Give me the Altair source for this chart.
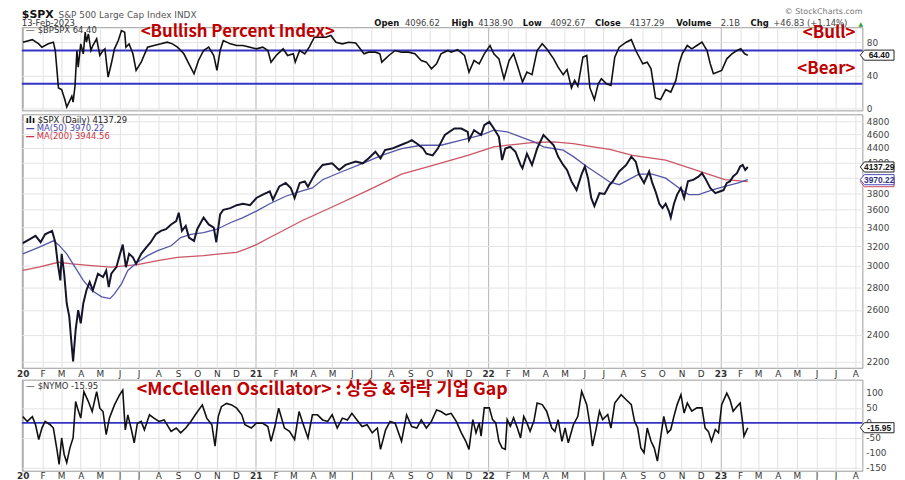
import altair as alt
import pandas as pd

# ---------------- values ----------------
bpi = [
    ("2020-01-01", 80), ("2020-01-16", 83), ("2020-01-26", 78), ("2020-01-31", 74), ("2020-02-10", 78),
    ("2020-02-18", 80), ("2020-02-21", 70), ("2020-02-26", 25), ("2020-03-02", 23), ("2020-03-07", 11),
    ("2020-03-10", 2), ("2020-03-15", 10), ("2020-03-18", 15), ("2020-03-20", 8), ("2020-03-23", 27),
    ("2020-03-26", 70), ("2020-03-28", 50), ("2020-04-01", 78), ("2020-04-05", 66), ("2020-04-08", 92),
    ("2020-04-10", 80), ("2020-04-13", 90), ("2020-04-17", 70), ("2020-04-20", 76), ("2020-04-26", 84),
    ("2020-05-01", 64), ("2020-05-06", 70), ("2020-05-09", 72), ("2020-05-14", 38), ("2020-05-19", 54),
    ("2020-05-24", 72), ("2020-05-30", 82), ("2020-06-04", 94), ("2020-06-09", 92), ("2020-06-11", 74),
    ("2020-06-16", 78), ("2020-06-22", 66), ("2020-06-27", 46), ("2020-07-05", 56), ("2020-07-15", 74),
    ("2020-07-25", 76), ("2020-08-05", 78), ("2020-08-15", 80), ("2020-08-23", 78), ("2020-08-31", 74),
    ("2020-09-10", 66), ("2020-09-18", 54), ("2020-09-26", 42), ("2020-10-03", 58), ("2020-10-11", 70),
    ("2020-10-19", 74), ("2020-10-27", 64), ("2020-11-01", 46), ("2020-11-06", 70), ("2020-11-11", 82),
    ("2020-11-22", 78), ("2020-12-02", 76), ("2020-12-12", 76), ("2020-12-23", 74), ("2021-01-02", 72),
    ("2021-01-12", 74), ("2021-01-20", 70), ("2021-01-25", 56), ("2021-02-02", 64), ("2021-02-13", 72),
    ("2021-02-20", 64), ("2021-03-01", 66), ("2021-03-04", 56), ("2021-03-11", 70), ("2021-03-19", 66),
    ("2021-03-26", 74), ("2021-04-03", 86), ("2021-04-11", 86), ("2021-04-21", 86), ("2021-04-29", 88),
    ("2021-05-07", 80), ("2021-05-17", 78), ("2021-05-27", 80), ("2021-06-07", 79), ("2021-06-14", 72),
    ("2021-06-20", 66), ("2021-06-27", 68), ("2021-07-08", 68), ("2021-07-15", 66), ("2021-07-18", 56),
    ("2021-07-29", 64), ("2021-08-08", 70), ("2021-08-18", 68), ("2021-08-29", 68), ("2021-09-08", 66),
    ("2021-09-18", 58), ("2021-09-26", 56), ("2021-10-04", 48), ("2021-10-12", 54), ("2021-10-19", 66),
    ("2021-10-30", 70), ("2021-11-04", 68), ("2021-11-14", 71), ("2021-11-25", 64), ("2021-12-02", 44),
    ("2021-12-10", 58), ("2021-12-18", 54), ("2021-12-26", 66), ("2022-01-04", 76), ("2022-01-10", 66),
    ("2022-01-18", 60), ("2022-01-26", 36), ("2022-02-03", 58), ("2022-02-10", 66), ("2022-02-16", 52),
    ("2022-02-24", 32), ("2022-03-03", 44), ("2022-03-11", 41), ("2022-03-19", 70), ("2022-03-27", 78),
    ("2022-04-03", 72), ("2022-04-14", 60), ("2022-04-21", 50), ("2022-04-29", 41), ("2022-05-05", 47),
    ("2022-05-12", 25), ("2022-05-17", 34), ("2022-05-22", 27), ("2022-05-30", 62), ("2022-06-05", 64),
    ("2022-06-10", 25), ("2022-06-17", 11), ("2022-06-23", 30), ("2022-06-28", 36), ("2022-07-06", 30),
    ("2022-07-13", 28), ("2022-07-19", 62), ("2022-07-26", 74), ("2022-08-06", 80), ("2022-08-14", 83),
    ("2022-08-21", 70), ("2022-09-01", 54), ("2022-09-08", 56), ("2022-09-14", 48), ("2022-09-21", 13),
    ("2022-09-29", 11), ("2022-10-07", 23), ("2022-10-15", 20), ("2022-10-23", 34), ("2022-10-28", 54),
    ("2022-11-02", 66), ("2022-11-10", 76), ("2022-11-17", 72), ("2022-11-25", 76), ("2022-12-03", 80),
    ("2022-12-11", 70), ("2022-12-16", 54), ("2022-12-21", 42), ("2023-01-03", 46), ("2023-01-11", 60),
    ("2023-01-19", 66), ("2023-01-27", 70), ("2023-02-02", 72), ("2023-02-08", 66), ("2023-02-13", 64.40),
]

spx = [
    ("2020-01-01", 3230), ("2020-01-10", 3265), ("2020-01-21", 3308), ("2020-01-29", 3240), ("2020-02-05", 3325),
    ("2020-02-16", 3362), ("2020-02-21", 3240), ("2020-02-25", 3020), ("2020-02-29", 2862), ("2020-03-02", 3120),
    ("2020-03-06", 2925), ("2020-03-10", 2655), ("2020-03-14", 2545), ("2020-03-17", 2360), ("2020-03-20", 2200),
    ("2020-03-24", 2437), ("2020-03-28", 2599), ("2020-04-01", 2490), ("2020-04-05", 2655), ("2020-04-10", 2772),
    ("2020-04-15", 2847), ("2020-04-20", 2772), ("2020-04-28", 2925), ("2020-05-06", 2893), ("2020-05-11", 2956),
    ("2020-05-15", 2800), ("2020-05-19", 2925), ("2020-05-27", 2988), ("2020-06-01", 3102), ("2020-06-06", 3215),
    ("2020-06-11", 2988), ("2020-06-16", 3120), ("2020-06-22", 3085), ("2020-06-27", 3020), ("2020-07-05", 3120),
    ("2020-07-13", 3186), ("2020-07-20", 3240), ("2020-07-28", 3325), ("2020-08-05", 3362), ("2020-08-13", 3380),
    ("2020-08-21", 3433), ("2020-08-29", 3471), ("2020-09-02", 3566), ("2020-09-07", 3362), ("2020-09-13", 3416),
    ("2020-09-18", 3290), ("2020-09-26", 3255), ("2020-10-01", 3380), ("2020-10-11", 3510), ("2020-10-19", 3433),
    ("2020-10-27", 3398), ("2020-10-31", 3240), ("2020-11-06", 3547), ("2020-11-11", 3600), ("2020-11-22", 3620),
    ("2020-12-02", 3654), ("2020-12-12", 3672), ("2020-12-23", 3654), ("2021-01-02", 3741), ("2021-01-12", 3782),
    ("2021-01-23", 3823), ("2021-01-28", 3720), ("2021-02-07", 3885), ("2021-02-17", 3928), ("2021-02-25", 3865),
    ("2021-03-03", 3740), ("2021-03-11", 3928), ("2021-03-19", 3948), ("2021-03-24", 3880), ("2021-04-01", 4000),
    ("2021-04-05", 4055), ("2021-04-16", 4165), ("2021-05-01", 4187), ("2021-05-12", 4098), ("2021-05-22", 4165),
    ("2021-06-07", 4210), ("2021-06-18", 4187), ("2021-06-27", 4253), ("2021-07-08", 4348), ("2021-07-16", 4253),
    ("2021-07-23", 4370), ("2021-08-03", 4392), ("2021-08-16", 4440), ("2021-08-29", 4490), ("2021-09-03", 4515),
    ("2021-09-11", 4465), ("2021-09-21", 4392), ("2021-09-26", 4320), ("2021-10-06", 4296), ("2021-10-14", 4392),
    ("2021-10-25", 4590), ("2021-11-09", 4688), ("2021-11-20", 4688), ("2021-11-30", 4637), ("2021-12-02", 4515),
    ("2021-12-10", 4663), ("2021-12-21", 4590), ("2021-12-26", 4738), ("2022-01-03", 4790), ("2022-01-10", 4688),
    ("2022-01-18", 4563), ("2022-01-23", 4232), ("2022-01-28", 4392), ("2022-02-05", 4418), ("2022-02-13", 4348),
    ("2022-02-21", 4165), ("2022-02-24", 4121), ("2022-03-03", 4320), ("2022-03-11", 4165), ("2022-03-19", 4392),
    ("2022-03-29", 4590), ("2022-04-06", 4515), ("2022-04-14", 4440), ("2022-04-21", 4279), ("2022-04-29", 4165),
    ("2022-05-05", 4098), ("2022-05-12", 3948), ("2022-05-20", 3838), ("2022-05-28", 4043), ("2022-06-02", 4143),
    ("2022-06-07", 3990), ("2022-06-12", 3741), ("2022-06-17", 3643), ("2022-06-25", 3800), ("2022-07-03", 3790),
    ("2022-07-11", 3906), ("2022-07-16", 3948), ("2022-07-26", 4077), ("2022-08-06", 4165), ("2022-08-14", 4279),
    ("2022-08-21", 4210), ("2022-08-26", 4043), ("2022-09-03", 3928), ("2022-09-11", 4077), ("2022-09-16", 3928),
    ("2022-09-21", 3823), ("2022-09-27", 3672), ("2022-10-02", 3620), ("2022-10-07", 3672), ("2022-10-12", 3585),
    ("2022-10-15", 3510), ("2022-10-20", 3672), ("2022-10-25", 3782), ("2022-10-31", 3865), ("2022-11-05", 3741),
    ("2022-11-11", 3948), ("2022-11-20", 3970), ("2022-11-28", 4012), ("2022-12-03", 4055), ("2022-12-08", 3990),
    ("2022-12-16", 3865), ("2022-12-24", 3800), ("2023-01-01", 3823), ("2023-01-06", 3838), ("2023-01-11", 3928),
    ("2023-01-16", 3948), ("2023-01-21", 4012), ("2023-01-27", 4055), ("2023-02-01", 4143), ("2023-02-05", 4165),
    ("2023-02-09", 4098), ("2023-02-13", 4137.29),
]

ma50 = [
    ("2020-01-01", 3120), ("2020-01-26", 3186), ("2020-02-18", 3255), ("2020-02-26", 3215), ("2020-03-10", 3120),
    ("2020-03-23", 2988), ("2020-04-05", 2862), ("2020-04-18", 2772), ("2020-05-04", 2713), ("2020-05-17", 2698),
    ("2020-05-24", 2740), ("2020-06-04", 2830), ("2020-06-14", 2956), ("2020-06-29", 3036), ("2020-07-15", 3102),
    ("2020-07-31", 3152), ("2020-08-21", 3203), ("2020-09-05", 3290), ("2020-09-21", 3325), ("2020-10-11", 3343),
    ("2020-11-01", 3380), ("2020-11-22", 3452), ("2020-12-12", 3510), ("2021-01-02", 3585), ("2021-01-23", 3672),
    ("2021-02-17", 3762), ("2021-03-16", 3830), ("2021-03-31", 3865), ("2021-04-16", 3970), ("2021-05-17", 4077),
    ("2021-06-18", 4187), ("2021-07-18", 4296), ("2021-08-18", 4392), ("2021-09-18", 4440), ("2021-10-19", 4440),
    ("2021-11-20", 4515), ("2021-12-21", 4590), ("2022-01-10", 4663), ("2022-01-31", 4637), ("2022-02-21", 4563),
    ("2022-03-14", 4490), ("2022-03-29", 4418), ("2022-04-14", 4392), ("2022-04-29", 4370), ("2022-05-15", 4279),
    ("2022-06-05", 4143), ("2022-06-25", 4030), ("2022-07-11", 3940), ("2022-07-26", 3906), ("2022-08-26", 4043),
    ("2022-09-16", 4043), ("2022-10-07", 3990), ("2022-10-28", 3865), ("2022-11-12", 3782), ("2022-11-28", 3782),
    ("2022-12-18", 3838), ("2023-01-08", 3885), ("2023-01-29", 3928), ("2023-02-13", 3970.22),
]

ma200 = [
    ("2020-01-01", 2956), ("2020-01-26", 2988), ("2020-02-26", 3036), ("2020-03-18", 3020), ("2020-04-18", 3004),
    ("2020-05-19", 2988), ("2020-06-29", 3012), ("2020-07-31", 3053), ("2020-08-31", 3085), ("2020-10-11", 3102),
    ("2020-11-06", 3120), ("2020-12-02", 3136), ("2020-12-17", 3170), ("2021-01-02", 3215), ("2021-01-23", 3290),
    ("2021-02-17", 3380), ("2021-03-16", 3480), ("2021-03-31", 3528), ("2021-05-07", 3654), ("2021-06-27", 3838),
    ("2021-08-18", 4043), ("2021-10-09", 4165), ("2021-11-30", 4296), ("2022-01-10", 4418), ("2022-02-10", 4450),
    ("2022-03-14", 4480), ("2022-04-14", 4490), ("2022-05-15", 4465), ("2022-06-15", 4418), ("2022-07-11", 4380),
    ("2022-08-16", 4296), ("2022-10-07", 4232), ("2022-11-07", 4143), ("2022-12-08", 4055), ("2023-01-08", 3970),
    ("2023-02-13", 3944.56),
]

nymo = [
    ("2020-01-01", 21), ("2020-01-08", 5), ("2020-01-16", 21), ("2020-01-21", -6), ("2020-01-26", -55),
    ("2020-01-31", -17), ("2020-02-05", 5), ("2020-02-13", -6), ("2020-02-18", -17), ("2020-02-24", -94),
    ("2020-02-27", -138), ("2020-03-02", -50), ("2020-03-06", -105), ("2020-03-10", -132), ("2020-03-15", -83),
    ("2020-03-20", -50), ("2020-03-24", 71), ("2020-03-27", 49), ("2020-04-01", 16), ("2020-04-06", 104),
    ("2020-04-13", 71), ("2020-04-19", 38), ("2020-04-26", 104), ("2020-05-01", 49), ("2020-05-06", 38),
    ("2020-05-11", -39), ("2020-05-16", 16), ("2020-05-24", 60), ("2020-06-01", 93), ("2020-06-06", 109),
    ("2020-06-10", -23), ("2020-06-14", 27), ("2020-06-19", -17), ("2020-06-24", -66), ("2020-06-29", -1),
    ("2020-07-05", 5), ("2020-07-10", -23), ("2020-07-18", 27), ("2020-07-25", 16), ("2020-08-02", 5),
    ("2020-08-10", 10), ("2020-08-21", -28), ("2020-08-29", -17), ("2020-09-05", -33), ("2020-09-13", -17),
    ("2020-09-21", 5), ("2020-09-28", 27), ("2020-10-09", 60), ("2020-10-16", 16), ("2020-10-24", -6),
    ("2020-10-29", -77), ("2020-11-03", 21), ("2020-11-08", 54), ("2020-11-16", 65), ("2020-11-24", 60),
    ("2020-12-02", 49), ("2020-12-10", 27), ("2020-12-15", -6), ("2020-12-25", -17), ("2021-01-02", -1),
    ("2021-01-12", -1), ("2021-01-20", -12), ("2021-01-25", -61), ("2021-01-31", -12), ("2021-02-06", 49),
    ("2021-02-15", -17), ("2021-02-23", -28), ("2021-03-03", -55), ("2021-03-10", 38), ("2021-03-16", -1),
    ("2021-03-24", -50), ("2021-03-31", 27), ("2021-04-08", 27), ("2021-04-16", 10), ("2021-04-24", 5),
    ("2021-05-01", 27), ("2021-05-09", -17), ("2021-05-17", 16), ("2021-05-25", 10), ("2021-06-01", 32),
    ("2021-06-09", 10), ("2021-06-17", -12), ("2021-06-25", -6), ("2021-07-03", -33), ("2021-07-11", -17),
    ("2021-07-16", -88), ("2021-07-24", -23), ("2021-07-31", 5), ("2021-08-08", -1), ("2021-08-18", -61),
    ("2021-08-26", 27), ("2021-09-03", -12), ("2021-09-11", -17), ("2021-09-18", 10), ("2021-09-26", -17),
    ("2021-10-04", 5), ("2021-10-12", 43), ("2021-10-19", 38), ("2021-10-27", 27), ("2021-11-04", 32),
    ("2021-11-12", 5), ("2021-11-20", -33), ("2021-11-27", -61), ("2021-12-02", -88), ("2021-12-08", 11),
    ("2021-12-13", -33), ("2021-12-18", 0), ("2021-12-21", -44), ("2021-12-26", 50), ("2022-01-03", 50),
    ("2022-01-08", 11), ("2022-01-13", 0), ("2022-01-18", -61), ("2022-01-23", -83), ("2022-01-28", -88),
    ("2022-01-31", 11), ("2022-02-05", -11), ("2022-02-10", 17), ("2022-02-16", -17), ("2022-02-21", -50),
    ("2022-02-26", 22), ("2022-03-03", 0), ("2022-03-08", -28), ("2022-03-14", 6), ("2022-03-19", 66),
    ("2022-03-27", 61), ("2022-04-03", 39), ("2022-04-11", -17), ("2022-04-16", -28), ("2022-04-21", 11),
    ("2022-04-27", -61), ("2022-05-02", -17), ("2022-05-07", -66), ("2022-05-15", -6), ("2022-05-22", 22),
    ("2022-05-28", 105), ("2022-06-05", 61), ("2022-06-10", -6), ("2022-06-14", -77), ("2022-06-20", -17),
    ("2022-06-25", 39), ("2022-06-30", 11), ("2022-07-08", 28), ("2022-07-13", -17), ("2022-07-19", 66),
    ("2022-07-29", 94), ("2022-08-06", 77), ("2022-08-14", 61), ("2022-08-19", 6), ("2022-08-24", -17),
    ("2022-08-29", -83), ("2022-09-03", -99), ("2022-09-08", -17), ("2022-09-14", -61), ("2022-09-19", -83),
    ("2022-09-24", -127), ("2022-09-29", -50), ("2022-10-04", 22), ("2022-10-10", -33), ("2022-10-15", -22),
    ("2022-10-20", 22), ("2022-10-25", 61), ("2022-10-31", 94), ("2022-11-05", 33), ("2022-11-10", 66),
    ("2022-11-17", 39), ("2022-11-25", 50), ("2022-12-03", 50), ("2022-12-08", -17), ("2022-12-13", -28),
    ("2022-12-18", -61), ("2022-12-24", -22), ("2022-12-29", -33), ("2023-01-03", 61), ("2023-01-11", 99),
    ("2023-01-16", 77), ("2023-01-21", 39), ("2023-01-27", 55), ("2023-02-01", 66), ("2023-02-05", 0),
    ("2023-02-07", -44), ("2023-02-13", -15.95),
]

bpi_levels = [30, 70]
nymo_levels = [0]
bpi_ticks = [0, 20, 40, 60, 80]
spx_ticks = [2200, 2400, 2600, 2800, 3000, 3200, 3400, 3600, 3800, 4000, 4200, 4400, 4600, 4800]
nymo_ticks = [-150, -100, -50, 0, 50, 100]
# tick labels that sit completely under a value box in the reference
bpi_hidden_label = 60
spx_hidden_label = 4000

quote_fields = ["Open", "High", "Low", "Close", "Volume", "Chg"]
quote_values = ["4096.62", "4138.90", "4092.67", "4137.29", "2.1B", "+46.83 (+1.14%)"]
last_bpi, last_spx, last_ma50, last_ma200, last_nymo = 64.40, 4137.29, 3970.22, 3944.56, -15.95

# ---------------- layout / style ----------------
W = 849
H_TOP, H_MID, H_BOT = 84, 256, 92
FONT = "DejaVu Sans"
RED = "#c00000"
LEVEL_BLUE = "#3434c4"

one = pd.DataFrame({"k": [0]})


def txt(text, x, y, size=9, color="#333", weight="normal", align="left", font=FONT, baseline="alphabetic"):
    return alt.Chart(one).mark_text(text=text, fontSize=size, color=color, fontWeight=weight,
                                    align=align, baseline=baseline, font=font).encode(
        x=alt.value(x), y=alt.value(y))


xscale = alt.Scale(type="utc", nice=False,
                   domain=[alt.DateTime(year=2019, month=12, date=30, hours=12, utc=True),
                           alt.DateTime(year=2023, month=8, date=12, utc=True)])
is_jan = "utcmonth(datum.value) == 0"


def x_axis(labels, pad=2):
    return alt.Axis(tickCount={"interval": "month", "step": 1}, grid=True,
                    gridColor={"condition": {"test": is_jan, "value": "#b4b4b4"}, "value": "#e2e2e2"},
                    labels=labels,
                    labelExpr="utcmonth(datum.value) == 0 ? utcFormat(datum.value, '%y') : substring(utcFormat(datum.value, '%b'), 0, 1)",
                    labelFontWeight={"condition": {"test": is_jan, "value": "bold"}, "value": "normal"},
                    labelFont=FONT, labelFontSize=9, labelColor="#333", labelPadding=pad,
                    labelOverlap=False, labelFlush=False, ticks=False, domain=False, title=None)


def y_axis(values, labels=True, hidden=None):
    expr = "format(datum.value, 'd')"
    if hidden is not None:
        expr = f"datum.value == {hidden} ? '' : " + expr
    return alt.Axis(orient="right", values=values, grid=True, gridColor="#e4e4e4", ticks=False, domain=False,
                    labels=labels, labelExpr=expr,
                    labelFont=FONT, labelFontSize=9, labelColor="#444", labelPadding=4, title=None,
                    labelFlush=False, labelOverlap=False)


def tick_labels(values):
    # right-hand tick labels drawn as text marks positioned through the panel's own y scale
    df = pd.DataFrame({"value": values, "label": [str(v) for v in values]})
    return alt.Chart(df).mark_text(font=FONT, fontSize=9, color="#444", align="left", baseline="middle").encode(
        x=alt.value(W + 4), y=alt.Y("value:Q"), text="label:N")


BOX = "M-1.27,0L-1,-0.34L1,-0.34L1,0.34L-1,0.34Z"


def value_box(value, stroke, text_color=None):
    df = pd.DataFrame({"value": [value], "label": [f"{value:.2f}"]})
    box = alt.Chart(df).mark_point(shape=BOX, size=900, filled=True, fill="white", stroke=stroke,
                                   strokeWidth=1, opacity=1).encode(x=alt.value(W + 17), y=alt.Y("value:Q"))
    if text_color is None:
        return [box]
    t = alt.Chart(df).mark_text(font="Liberation Sans", fontSize=8.5, fontWeight="bold", color=text_color,
                                align="center", baseline="middle").encode(
        x=alt.value(W + 17), y=alt.Y("value:Q"), text="label:N")
    return [box, t]


# ---------------- top panel: Bullish Percent Index ----------------
bpi_df = pd.DataFrame(bpi, columns=["date", "value"])
y_top = alt.Y("value:Q", scale=alt.Scale(domain=[-2, 98], nice=False, zero=False),
              axis=y_axis(bpi_ticks, hidden=bpi_hidden_label))
bpi_line = alt.Chart(bpi_df).mark_line(color="#111", strokeWidth=1.6).encode(
    x=alt.X("date:T", scale=xscale, axis=x_axis(False)), y=y_top)
bpi_rules = alt.Chart(pd.DataFrame({"value": bpi_levels})).mark_rule(
    color=LEVEL_BLUE, strokeWidth=2).encode(y=alt.Y("value:Q"))

quote_x = [(356, 387), (434, 461), (506, 534), (579, 614), (661, 706), (736, 759)]
header = [
    txt("$SPX", 0, -9, size=11, color="#111", weight="bold"),
    txt("S&P 500 Large Cap Index INDX", 37, -9, size=9, color="#555"),
    txt("13-Feb-2023", 0, -1, size=8.5, color="#333"),
    txt("© StockCharts.com", W, -13, size=8, color="#777", align="right"),
    txt("▲", 845, -1, size=6, color="#2e9e2e"),
]
for (xl, xv), f, v in zip(quote_x, quote_fields, quote_values):
    header.append(txt(f, xl, -1, size=8.5, color="#111", weight="bold"))
    header.append(txt(v, xv, -1, size=8.5, color="#444"))

top_notes = [
    txt("—", 4, 5.5, size=9, color="#222"),
    txt(f"$BPSPX {last_bpi:.2f}", 16, 5.5, size=8.5, color="#333"),
    txt("<Bullish Percent Index>", 120, 10, size=17, color=RED, weight="bold", font="Noto Sans CJK KR"),
    txt("<Bull>", 842, 11, size=17, color=RED, weight="bold", font="Noto Sans CJK KR", align="right"),
    txt("<Bear>", 842, 47, size=17, color=RED, weight="bold", font="Noto Sans CJK KR", align="right"),
]

top = alt.layer(bpi_rules, bpi_line, *top_notes, *header, *value_box(last_bpi, "#222", "#111")).properties(
    width=W, height=H_TOP)

# ---------------- middle panel: S&P 500 with moving averages ----------------
spx_df = pd.DataFrame(spx, columns=["date", "value"])
ma50_df = pd.DataFrame(ma50, columns=["date", "value"])
ma200_df = pd.DataFrame(ma200, columns=["date", "value"])
x_mid = alt.X("date:T", scale=xscale, axis=x_axis(True, 2))
y_mid = alt.Y("value:Q", scale=alt.Scale(type="log", domain=[2155, 4909], nice=False),
              axis=y_axis(spx_ticks, hidden=spx_hidden_label))
ma200_line = alt.Chart(ma200_df).mark_line(color="#cc5566", strokeWidth=1.3).encode(x=x_mid, y=y_mid)
ma50_line = alt.Chart(ma50_df).mark_line(color="#5656a8", strokeWidth=1.3).encode(x=x_mid, y=y_mid)
spx_line = alt.Chart(spx_df).mark_line(color="#14142a", strokeWidth=2).encode(x=x_mid, y=y_mid)

mid_notes = [
    txt("ılı", 4, 9, size=9, color="#111", weight="bold"),
    txt(f"$SPX (Daily) {last_spx:.2f}", 16, 9, size=8.5, color="#222"),
    txt("—", 4, 16.5, size=9, color="#4a4aa8", weight="bold"),
    txt(f"MA(50) {last_ma50:.2f}", 15, 16.5, size=8.5, color="#4a4aa8"),
    txt("—", 4, 24.5, size=9, color="#cc3344", weight="bold"),
    txt(f"MA(200) {last_ma200:.2f}", 15, 24.5, size=8.5, color="#cc3344"),
]

mid = alt.layer(ma200_line, ma50_line, spx_line, *mid_notes,
                *value_box(last_ma200, "#cc4455"),
                *value_box(last_ma50, "#4a4ac0", "#303080"),
                *value_box(last_spx, "#222", "#111")).properties(width=W, height=H_MID)

# ---------------- bottom panel: McClellan Oscillator ----------------
nymo_df = pd.DataFrame(nymo, columns=["date", "value"])
y_bot = alt.Y("value:Q", scale=alt.Scale(domain=[-159, 144], nice=False, zero=False),
              axis=y_axis(nymo_ticks, labels=False))
nymo_rule = alt.Chart(pd.DataFrame({"value": nymo_levels})).mark_rule(
    color=LEVEL_BLUE, strokeWidth=1.8).encode(y=alt.Y("value:Q"))
nymo_line = alt.Chart(nymo_df).mark_line(color="#111", strokeWidth=1.6).encode(
    x=alt.X("date:T", scale=xscale, axis=x_axis(True, 1)), y=y_bot)

bot_notes = [
    txt("—", 4, 9.5, size=9, color="#222"),
    txt(f"$NYMO {last_nymo:.2f}", 16, 9.5, size=8.5, color="#333"),
    txt("<McClellen Oscillator> : 상승 & 하락 기업 Gap", 116, 16, size=18, color=RED, weight="bold",
        font="Noto Sans CJK KR"),
]

bot = alt.layer(nymo_rule, nymo_line, tick_labels(nymo_ticks), *bot_notes,
                *value_box(last_nymo, "#222", "#111")).properties(width=W, height=H_BOT)

chart = alt.vconcat(top, mid, bot, spacing=-2).properties(
    padding={"left": 8, "top": -3, "right": 0, "bottom": 0},
    background="white",
).configure_view(stroke="#9a9a9a", strokeWidth=1)

chart.save("out.html", embed_options={"renderer": "svg", "actions": False})
